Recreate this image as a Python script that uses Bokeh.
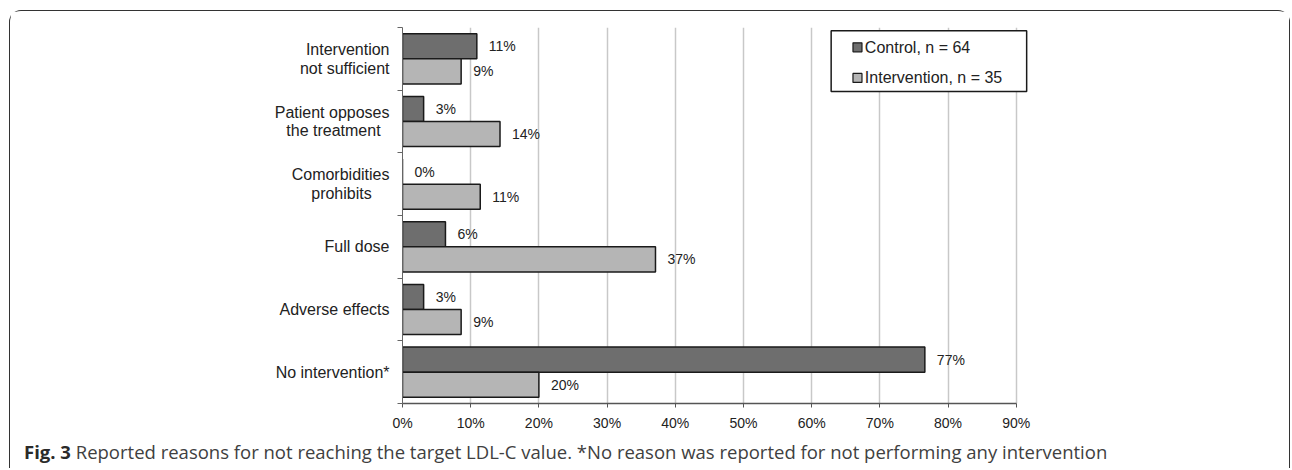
from bokeh.plotting import figure
from bokeh.models import Range1d, FixedTicker, Div, Column
from bokeh.core.properties import value
from bokeh.embed import file_html
from bokeh.resources import INLINE

# ---- data ----
NB = "\u00a0"
categories = ["Intervention\nnot sufficient", "Patient opposes\nthe treatment" + NB * 2,
              "Comorbidities\nprohibits" + NB * 4, "Full dose", "Adverse effects", "No intervention*"]
control = [10.9, 3.1, 0.0, 6.3, 3.1, 76.6]
intervention = [8.6, 14.3, 11.4, 37.1, 8.6, 20.0]
series_names = ["Control, n = 64", "Intervention, n = 35"]
x_ticks = [0, 10, 20, 30, 40, 50, 60, 70, 80, 90]
x_tick_labels = ["0%", "10%", "20%", "30%", "40%", "50%", "60%", "70%", "80%", "90%"]
caption_bold = "Fig. 3"
caption_text = ("Reported reasons for not reaching the target LDL-C value. "
                "*No reason was reported for not performing any intervention")

# ---- style ----
C_CONTROL = "#6e6e6e"
C_INTERV = "#b5b5b5"
EDGE = "#1a1a1a"
FONT = "Liberation Sans"

n = len(categories)
centers = [n - 0.5 - i for i in range(n)]
y_control = [c + 0.2 for c in centers]
y_interv = [c - 0.2 for c in centers]

p = figure(width=1279, height=429, x_range=Range1d(0, 91.8), y_range=Range1d(0, n),
           output_backend="svg", toolbar_location=None, margin=0,
           min_border_left=392, min_border_right=261, min_border_top=16, min_border_bottom=37)
p.outline_line_color = None
p.background_fill_color = "white"
p.border_fill_color = "white"

# x axis
xa = p.xaxis[0]
xa.ticker = FixedTicker(ticks=x_ticks)
xa.major_label_overrides = {t: l for t, l in zip(x_ticks, x_tick_labels)}
xa.bounds = (0, 90)
xa.minor_tick_line_color = None
xa.major_tick_in = 0
xa.major_tick_out = 4
xa.major_tick_line_color = "#555555"
xa.axis_line_color = "#555555"
xa.axis_line_width = 1.5
xa.major_label_standoff = 7
xa.major_label_text_font = FONT
xa.major_label_text_font_size = "14px"
xa.major_label_text_color = "#222222"

# y axis: labels at centres, ticks at category boundaries
ya = p.yaxis[0]
ya.ticker = FixedTicker(ticks=centers, minor_ticks=list(range(n + 1)))
ya.major_label_overrides = {c: cat for c, cat in zip(centers, categories)}
ya.major_tick_in = 0
ya.major_tick_out = 0
ya.major_tick_line_color = None
ya.minor_tick_in = 0
ya.minor_tick_out = 5
ya.minor_tick_line_color = "#666666"
ya.axis_line_color = "#666666"
ya.axis_line_width = 1
ya.major_label_standoff = 8
ya.major_label_text_font = FONT
ya.major_label_text_font_size = "16px"
ya.major_label_text_line_height = 1.08
ya.major_label_text_color = "#222222"

p.xgrid.grid_line_color = "#c8c8c8"
p.xgrid.grid_line_width = 1.5
p.ygrid.grid_line_color = None

# bars
p.hbar(y=y_control, left=0, right=control, height=0.4,
       fill_color=C_CONTROL, line_color=EDGE, line_width=1.5)
p.hbar(y=y_interv, left=0, right=intervention, height=0.4,
       fill_color=C_INTERV, line_color=EDGE, line_width=1.5)

lab_c = [f"{round(v)}%" for v in control]
lab_i = [f"{round(v)}%" for v in intervention]
p.text(x=control, y=y_control, text=lab_c, x_offset=12, text_baseline="middle",
       text_font=value(FONT), text_font_size="14px", text_color="#222222")
p.text(x=intervention, y=y_interv, text=lab_i, x_offset=12, text_baseline="middle",
       text_font=value(FONT), text_font_size="14px", text_color="#222222")

# legend (box + swatches + labels)
p.quad(left=[62.86], right=[91.53], top=[5.949], bottom=[4.977],
       fill_color="white", line_color=EDGE, line_width=1.5)
leg_y = [5.684, 5.195]
p.scatter(x=[66.72, 66.72], y=leg_y, marker="square", size=9,
          fill_color=[C_CONTROL, C_INTERV], line_color=EDGE, line_width=1.2)
p.text(x=[67.8, 67.8], y=leg_y, text=series_names, text_baseline="middle",
       text_font=value(FONT), text_font_size="16px", text_color="#222222")

# caption
cap = Div(text=(f'<div style="font-family:\'Open Sans\';font-size:18.5px;line-height:24px;'
                f'color:#404040;padding-left:14px;white-space:nowrap;">'
                f'<b style="color:#2a2a2a;">{caption_bold}</b> {caption_text}</div>'),
          width=1279, height=28, margin=0)

layout = Column(p, cap, margin=(10, 0, 0, 9), spacing=0,
                styles={"border": "1.5px solid #333333", "border-bottom": "none",
                        "border-radius": "12px 12px 0 0"})

open("out.html", "w").write(file_html(layout, INLINE))
